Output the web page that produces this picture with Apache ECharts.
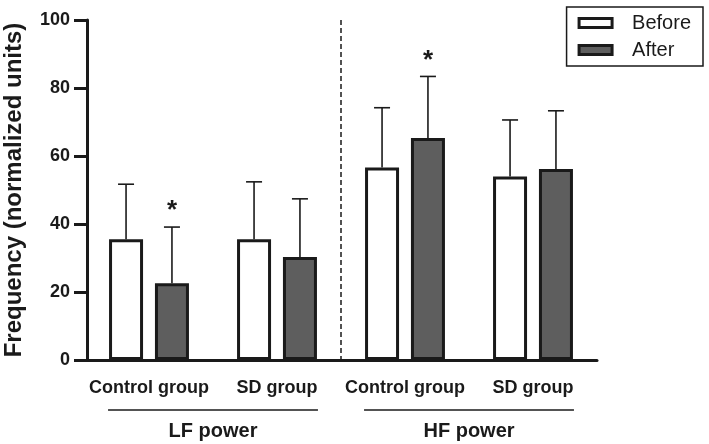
<!DOCTYPE html>
<html><head><meta charset="utf-8">
<script src="https://cdn.jsdelivr.net/npm/echarts@6/dist/echarts.min.js"></script>
<style>html,body{margin:0;padding:0;background:#fff}#c{width:709px;height:444px}</style>
</head><body><div id="c"></div>
<script>
// ---- data ----
const categories = ['Control group', 'SD group', 'Control group', 'SD group'];
const groupNames = ['LF power', 'HF power'];
const seriesNames = ['Before', 'After'];
const beforeMean = [35.5, 35.5, 56.6, 54.0];
const afterMean = [22.6, 30.3, 65.3, 56.2];
const beforeUpper = [51.7, 52.4, 74.2, 70.6];
const afterUpper = [39.1, 47.4, 83.4, 73.3];
const afterSignificant = [true, false, true, false];
const yMin = 0, yMax = 100, yStep = 20;

// ---- style ----
const FONT = '"Liberation Sans", Arial, sans-serif';
const INK = '#1a1a1a';
const BAR_W = 34, BAR_GAP = 0.35;
const OFFSET = (BAR_W + BAR_W * BAR_GAP) / 2;

const errData = [];
categories.forEach((c, i) => {
  errData.push([i, 0, beforeMean[i], beforeUpper[i], 0]);
  errData.push([i, 1, afterMean[i], afterUpper[i], afterSignificant[i] ? 1 : 0]);
});

const chart = echarts.init(document.getElementById('c'), null, {renderer: 'canvas'});
chart.setOption({
  animation: false,
  backgroundColor: '#fff',
  grid: {left: 85, right: 112, top: 20, bottom: 84, containLabel: false, outerBoundsMode: 'none'},
  legend: {
    data: seriesNames,
    orient: 'vertical',
    right: 6, top: 7,
    icon: 'rect',
    itemWidth: 33, itemHeight: 9, itemGap: 7,
    borderColor: INK, borderWidth: 1.5,
    padding: [6, 12, 6, 11],
    textStyle: {fontFamily: FONT, fontSize: 20, color: INK, padding: [0, 0, 0, 15]},
    itemStyle: {borderColor: INK, borderWidth: 3}
  },
  xAxis: {
    type: 'category',
    data: categories,
    axisLine: {lineStyle: {color: INK, width: 3}},
    axisTick: {alignWithLabel: true, length: 13, lineStyle: {width: 3, color: INK}},
    axisLabel: {fontFamily: FONT, fontSize: 18, fontWeight: 'bold', color: INK, margin: 19, interval: 0}
  },
  yAxis: {
    type: 'value', min: yMin, max: yMax, interval: yStep, offset: -2,
    name: 'Frequency (normalized units)', nameLocation: 'middle', nameGap: 61,
    nameTextStyle: {fontFamily: FONT, fontSize: 24, fontWeight: 'bold', color: INK},
    axisLine: {show: true, lineStyle: {color: INK, width: 3}},
    axisTick: {show: true, length: 13, lineStyle: {width: 3, color: INK}},
    axisLabel: {fontFamily: FONT, fontSize: 18, fontWeight: 'bold', color: INK, margin: 17},
    splitLine: {show: false}
  },
  series: [
    {name: 'Before', type: 'bar', data: beforeMean, barWidth: BAR_W, barGap: (BAR_GAP * 100) + '%',
     itemStyle: {color: '#ffffff', borderColor: INK, borderWidth: 3}},
    {name: 'After', type: 'bar', data: afterMean, barWidth: BAR_W,
     itemStyle: {color: '#5e5e5e', borderColor: INK, borderWidth: 3}},
    {type: 'custom', data: errData, z: 1, silent: true,
     encode: {x: 0, y: 3},
     renderItem: function (params, api) {
       const idx = api.value(0), slot = api.value(1);
       const c = api.coord([idx, api.value(2)]);
       const t = api.coord([idx, api.value(3)]);
       const x = c[0] + (slot === 0 ? -OFFSET : OFFSET);
       const ls = {stroke: INK, lineWidth: 1.6};
       const kids = [
         {type: 'line', shape: {x1: x, y1: c[1], x2: x, y2: t[1]}, style: ls},
         {type: 'line', shape: {x1: x - 8, y1: t[1], x2: x + 8, y2: t[1]}, style: ls}
       ];
       if (api.value(4)) {
         kids.push({type: 'text', style: {text: '*', x: x, y: t[1] - 3, textAlign: 'center', textVerticalAlign: 'bottom',
           fill: INK, font: 'bold 26px ' + FONT}});
       }
       return {type: 'group', children: kids};
     }}
  ]
});

function drawAnnotations() {
  const px = i => chart.convertToPixel({xAxisIndex: 0}, i);
  const py = v => chart.convertToPixel({yAxisIndex: 0}, v);
  const y0 = py(yMin), yTop = py(yMax);
  const g = [];
  const sepX = (px(1) + px(2)) / 2;
  g.push({type: 'line', shape: {x1: sepX, y1: yTop, x2: sepX, y2: y0},
    style: {stroke: INK, lineWidth: 1.5, lineDash: [5, 3]}});
  groupNames.forEach((name, k) => {
    const a = px(2 * k) - OFFSET - BAR_W / 2 - 1, b = px(2 * k + 1) + OFFSET + BAR_W / 2 + 1;
    g.push({type: 'line', shape: {x1: a, y1: y0 + 50, x2: b, y2: y0 + 50}, style: {stroke: INK, lineWidth: 1.5}});
    g.push({type: 'text', style: {text: name, x: (a + b) / 2, y: y0 + 71, textAlign: 'center', textVerticalAlign: 'middle',
      fill: INK, font: 'bold 20px ' + FONT}});
  });
  chart.setOption({graphic: g});
}
drawAnnotations();
</script></body></html>
